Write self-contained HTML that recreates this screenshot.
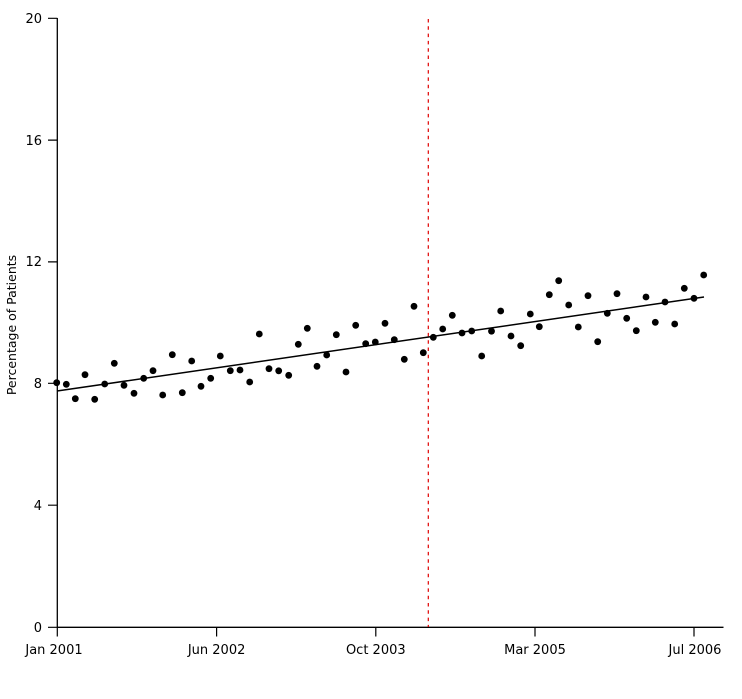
<!DOCTYPE html>
<html>
<head>
<meta charset="utf-8">
<style>
html,body{margin:0;padding:0;background:#fff;}
svg{display:block;}
text{font-family:"DejaVu Sans","Liberation Sans",sans-serif;fill:#000;}
</style>
</head>
<body>
<svg width="742" height="699" viewBox="0 0 742 699" xmlns="http://www.w3.org/2000/svg">
<defs>
<marker id="dot" markerUnits="userSpaceOnUse" markerWidth="8" markerHeight="8" refX="4" refY="4" overflow="visible">
<circle cx="4" cy="4" r="3.4" fill="#000"/>
</marker>
</defs>
<rect width="742" height="699" fill="#fff"/>
<line x1="57.3" y1="18" x2="57.3" y2="627.5" stroke="#000" stroke-width="1.3"/>
<line x1="57" y1="627.3" x2="723.5" y2="627.3" stroke="#000" stroke-width="1.3"/>
<path d="M48 18.3H57.3M48 140.1H57.3M48 261.9H57.3M48 383.3H57.3M48 505.2H57.3M48 627.3H57.3" stroke="#000" stroke-width="1.2"/>
<text x="42" y="23" font-size="13" text-anchor="end">20</text>
<text x="42" y="145" font-size="13" text-anchor="end">16</text>
<text x="42" y="266" font-size="13" text-anchor="end">12</text>
<text x="42" y="388" font-size="13" text-anchor="end">8</text>
<text x="42" y="510" font-size="13" text-anchor="end">4</text>
<text x="42" y="632" font-size="13" text-anchor="end">0</text>
<path d="M57.3 627V636.5M216.6 627V636.5M375.8 627V636.5M535 627V636.5M694 627V636.5" stroke="#000" stroke-width="1.2"/>
<text x="54" y="654" font-size="13" text-anchor="middle">Jan 2001</text>
<text x="216.6" y="654" font-size="13" text-anchor="middle">Jun 2002</text>
<text x="375.8" y="654" font-size="13" text-anchor="middle">Oct 2003</text>
<text x="535" y="654" font-size="13" text-anchor="middle">Mar 2005</text>
<text x="695" y="654" font-size="13" text-anchor="middle">Jul 2006</text>
<text font-size="12.5" text-anchor="middle" transform="translate(16,325) rotate(-90)">Percentage of Patients</text>
<line x1="428.3" y1="19" x2="428.3" y2="627" stroke="#e00000" stroke-width="1.2" stroke-dasharray="3.5,3.8"/>
<line x1="57" y1="391" x2="704" y2="297" stroke="#000" stroke-width="1.5"/>
<polyline fill="none" stroke="none" marker-start="url(#dot)" marker-mid="url(#dot)" marker-end="url(#dot)"
points="56.7,382.7 66.3,384.3 75.3,398.7 85,374.7 94.7,399.3 104.7,384 114.3,363.3 124,385.3 134,393.3 143.7,378.3
153,370.7 162.7,395 172.3,354.7 182.3,392.7 191.7,361 201,386.3 210.7,378.3 220.3,356 230.3,370.7 240,370
249.7,382 259.3,334 269,368.7 278.7,370.8 288.7,375.3 298.3,344.3 307.3,328.3 317,366.3 326.7,355 336.3,334.7
346,372 355.7,325.3 365.7,343.7 375.3,342 385,323.3 394.3,339.7 404.3,359.3 414,306.3 423.3,352.7 433.3,337.3
442.7,329 452.3,315.3 462,333 471.7,331 481.7,356 491.5,331.2 500.7,311 511,336 520.7,345.7 530.3,314
539.3,326.7 549.3,294.7 558.7,280.7 568.7,305 578.3,327 588,295.7 597.7,341.7 607.3,313.3 617,293.7 626.7,318.3
636.3,330.7 646,297 655.3,322.3 665,302 674.7,324 684.3,288.3 694,298.3 703.7,275"/>
</svg>
</body>
</html>
